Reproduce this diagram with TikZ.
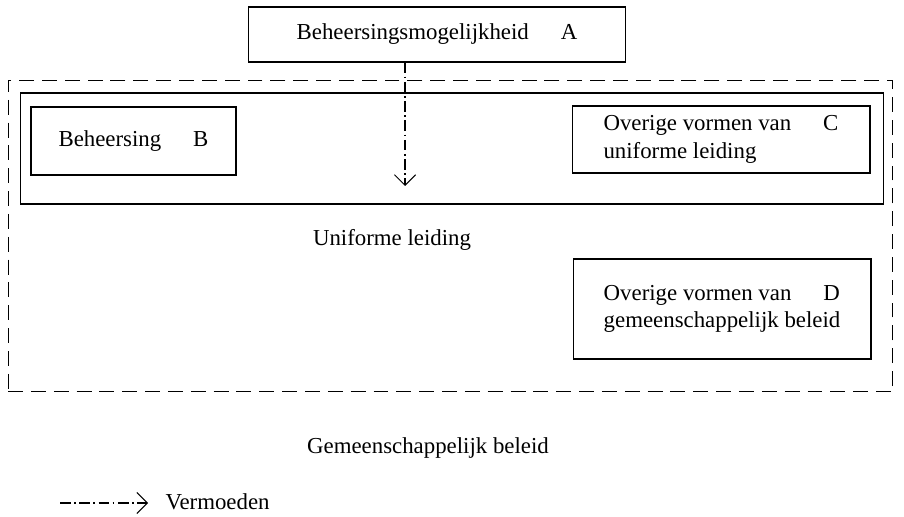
\documentclass[tikz,border=0pt]{standalone}
\usepackage{fontspec}
\setmainfont{Liberation Serif}
\usetikzlibrary{arrows.meta, positioning}

\newcommand{\lettergap}{\hspace{1.4em}}

\begin{document}
\begin{tikzpicture}[x=0.02cm, y=-0.02cm,
    font=\fontsize{13}{15.5}\selectfont,
    line width=0.6pt,
    blok/.style={draw, rectangle, inner sep=0pt, align=left},
    kader/.style={draw, rectangle, inner sep=0pt},
    lbl/.style={inner sep=0pt},
    vermoeden/.style={-{Straight Barb[length=6pt, width=12pt]},
      dash pattern=on 6pt off 2pt on 1pt off 2pt}]
  \useasboundingbox (0,0) rectangle (904,517);

  % Outer frame and inner frame
  \node[kader, dash pattern=on 8.5pt off 4.5pt,
    minimum width=17.7cm, minimum height=6.24cm] (beleid) at (450.5,236) {};
  \node[kader, minimum width=17.28cm, minimum height=2.22cm] (leiding) at (452,148.5) {};

  % Boxes
  \node[blok, minimum width=7.56cm, minimum height=1.1cm] (A) at (437,34.5)
    {Beheersingsmogelijkheid\lettergap A};
  \node[blok, minimum width=4.1cm, minimum height=1.36cm] (B) at (133.5,141)
    {Beheersing\lettergap B};
  \node[blok, minimum width=5.96cm, minimum height=1.34cm] (C) at (721,139.5)
    {Overige vormen van\lettergap C\\uniforme leiding};
  \node[blok, minimum width=5.96cm, minimum height=2cm] (D) at (722,309)
    {Overige vormen van\lettergap D\\gemeenschappelijk beleid};

  % Frame labels
  \node[lbl] (leidinglbl) at (392,240) {Uniforme leiding};
  \node[lbl] (beleidlbl) at (428,448) {Gemeenschappelijk beleid};

  % Supposed influence
  \coordinate (tip) at (405,186);
  \draw[vermoeden] (A.south -| tip) -- (tip);

  % Legend
  \coordinate (lgstart) at (60,503);
  \node[lbl, anchor=west] (verm) at (165,502) {Vermoeden};
  \draw[vermoeden, shorten >=9.6pt] (lgstart) -- (verm.west |- lgstart);
\end{tikzpicture}
\end{document}
